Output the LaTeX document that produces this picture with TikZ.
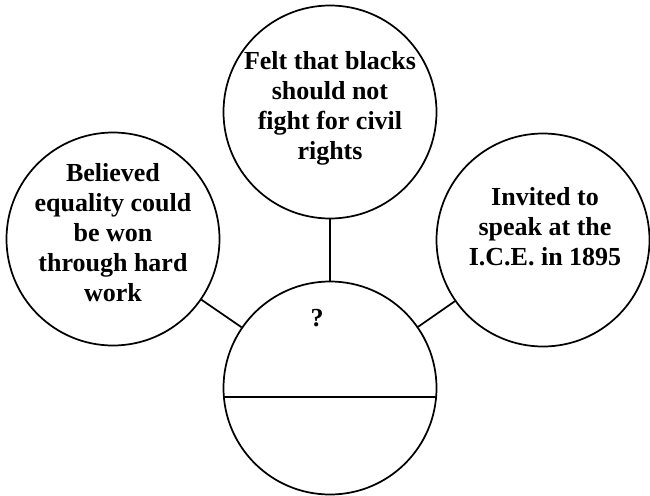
\documentclass[tikz,border=0pt]{standalone}
\usepackage{fontspec}
\setmainfont{Liberation Serif}
\begin{document}
\begin{tikzpicture}[x=0.75pt,y=-0.75pt,
  bubble/.style={draw=black,line width=1.3pt,circle,minimum size=213*0.75pt,inner sep=0pt},
  link/.style={draw=black,line width=1.3pt},
  caption/.style={align=center,font=\bfseries\fontsize{19.5}{22.5}\selectfont,inner sep=0pt}]
  \useasboundingbox (0,0) rectangle (650,496);
  % the four circles
  \node[bubble] (top) at (330,112) {};
  \node[bubble] (left) at (113,239) {};
  \node[bubble] (right) at (543,240) {};
  \node[bubble] (bot) at (330,388) {};
  % connectors
  \draw[link] (top) -- (bot);
  \draw[link] (left) -- (bot);
  \draw[link] (right) -- (bot);
  % divider across the lower circle
  \draw[link] (bot.185.4) -- (bot.-5.4);
  % captions
  \node[caption] (ttext) at (330,108) {Felt that blacks\\should not\\fight for civil\\rights};
  \node[caption] (ltext) at (113,233) {Believed\\equality could\\be won\\through hard\\work};
  \node[caption] (rtext) at (545,227) {Invited to\\speak at the\\I.C.E. in 1895};
  \node[caption] (q) at (317,318) {?};
\end{tikzpicture}
\end{document}
